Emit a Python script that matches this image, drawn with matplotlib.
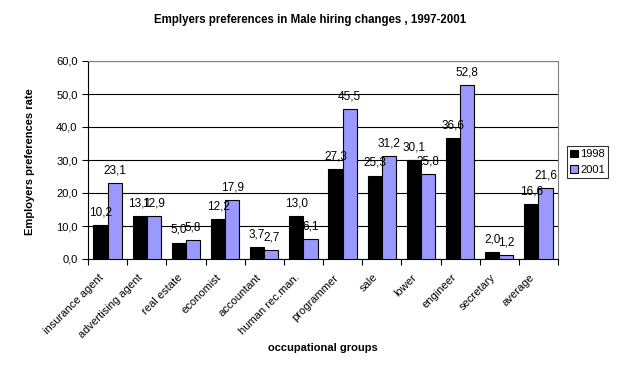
import numpy as np
import matplotlib.pyplot as plt
import matplotlib.transforms as mtransforms
from matplotlib.ticker import FuncFormatter

# ==================== data ====================
categories = ['insurance agent', 'advertising agent', 'real estate', 'economist',
              'accountant', 'human rec.man.', 'programmer', 'sale', 'lower',
              'engineer', 'secretary', 'average']
vals_1998 = [10.2, 13.1, 5.0, 12.2, 3.7, 13.0, 27.3, 25.3, 30.1, 36.6, 2.0, 16.6]
vals_2001 = [23.1, 12.9, 5.8, 17.9, 2.7, 6.1, 45.5, 31.2, 25.8, 52.8, 1.2, 21.6]
series_names = ['1998', '2001']

plt.rcParams['font.family'] = ['Liberation Sans', 'DejaVu Sans']

fig = plt.figure(figsize=(6.21, 3.77), dpi=100)
ax = fig.add_axes([88 / 621, 1 - 259 / 377, 470 / 621, 198 / 377])

x = np.arange(len(categories)) + 0.5
w = 0.36
b1 = ax.bar(x - w / 2, vals_1998, w, color='black', edgecolor='black', lw=0.8,
            label=series_names[0], zorder=3)
b2 = ax.bar(x + w / 2, vals_2001, w, color='#9999FF', edgecolor='black', lw=0.8,
            label=series_names[1], zorder=3)

# value labels (comma decimal)
for bars, vals in ((b1, vals_1998), (b2, vals_2001)):
    for r, v in zip(bars, vals):
        ax.text(r.get_x() + r.get_width() / 2, v + 2.0, f'{v:.1f}'.replace('.', ','),
                ha='center', va='bottom', fontsize=8.5, zorder=4)

ax.set_xlim(0, len(categories))
ax.set_ylim(0, 60)
ax.set_yticks(np.arange(0, 61, 10))
ax.yaxis.set_major_formatter(FuncFormatter(lambda v, p: f'{v:.1f}'.replace('.', ',')))
ax.grid(axis='y', color='black', lw=0.8, zorder=0)

# category ticks at group boundaries, labels at group centres
ax.set_xticks(np.arange(0, len(categories) + 1), minor=False)
ax.set_xticklabels([])
ax.set_xticks(x, minor=True)
ax.set_xticklabels(categories, minor=True, rotation=45, ha='right',
                   rotation_mode='anchor', fontsize=8)
ax.tick_params(axis='x', which='minor', length=0, pad=6)
ax.tick_params(axis='x', which='major', length=4, direction='out')
ax.tick_params(axis='y', length=4, direction='out', labelsize=8)
shift = mtransforms.ScaledTranslation(-9 / 100, -5 / 100, fig.dpi_scale_trans)
for lab in ax.get_xticklabels(minor=True):
    lab.set_transform(lab.get_transform() + shift)

for s in ('top', 'right'):
    ax.spines[s].set_color('#808080')
for s in ('left', 'bottom'):
    ax.spines[s].set_color('black')

fig.text(310 / 621, 1 - 20 / 377,
         'Emplyers preferences in Male hiring changes , 1997-2001',
         ha='center', va='center', fontsize=8.3, fontweight='bold')
fig.text(323 / 621, 1 - 348 / 377, 'occupational groups',
         ha='center', va='center', fontsize=8, fontweight='bold')
fig.text(30 / 621, 1 - 162 / 377, 'Employers preferences rate', rotation=90,
         ha='center', va='center', fontsize=8, fontweight='bold')

leg = fig.legend(loc='upper left', bbox_to_anchor=(567 / 621, 1 - 146 / 377),
                 fontsize=8, frameon=True, fancybox=False, handlelength=0.7,
                 handleheight=0.7, handletextpad=0.2, borderpad=0.3,
                 labelspacing=0.5, borderaxespad=0)
leg.get_frame().set_edgecolor('black')
leg.get_frame().set_linewidth(0.8)

fig.savefig('out.png', dpi=100)
